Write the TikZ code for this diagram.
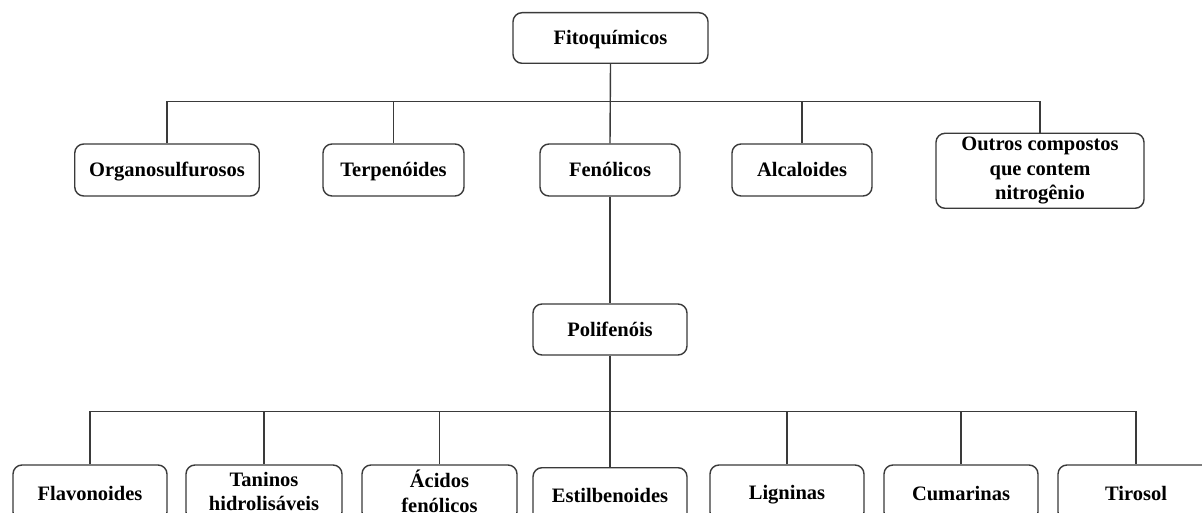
\documentclass[tikz,border=0pt]{standalone}
\usepackage{fontspec}
\setmainfont{Liberation Serif}
\definecolor{linec}{HTML}{3A3A3A}
\newcommand{\mystrut}{\rule[-3.5pt]{0pt}{21pt}}
\begin{document}
\begin{tikzpicture}[x=1pt,y=-1pt,
  box/.style={draw=linec,line width=1.4pt,rounded corners=9pt,inner sep=0pt,
    align=center,font=\fontsize{20.5}{24.5}\selectfont\bfseries,text=black,
    execute at begin node=\mystrut,execute at end node=\mystrut},
  conn/.style={draw=linec,line width=1.4pt}]
\useasboundingbox (0,0) rectangle (1202,513);
\clip (0,0) rectangle (1202,513);
\fill[white] (0,0) rectangle (1202,513);
% top level
\node[box,minimum width=195pt,minimum height=50.6pt] (fito) at (610.5,38) {Fitoquímicos};
% second row
\node[box,minimum width=184.5pt,minimum height=52pt] (org) at (167,170) {Organosulfurosos};
\node[box,minimum width=141pt,minimum height=52pt] (ter) at (393.5,170) {Terpenóides};
\node[box,minimum width=140pt,minimum height=52pt] (fen) at (610,170) {Fenólicos};
\node[box,minimum width=140pt,minimum height=52pt] (alc) at (802,170) {Alcaloides};
\node[box,minimum width=208pt,minimum height=75pt] (out) at (1040,170.8) {Outros compostos\\que contem\\nitrogênio};
% polifenois
\node[box,minimum width=154pt,minimum height=51pt] (pol) at (610,329.5) {Polifenóis};
% bottom row
\node[box,minimum width=154pt,minimum height=56pt] (fla) at (90,493) {Flavonoides};
\node[box,minimum width=156pt,minimum height=56pt] (tan) at (264,493) {Taninos\\hidrolisáveis};
\node[box,minimum width=155pt,minimum height=56pt] (aci) at (439.5,493) {Ácidos\\fenólicos};
\node[box,minimum width=154pt,minimum height=56pt] (est) at (610,495.7) {Estilbenoides};
\node[box,minimum width=154pt,minimum height=56pt] (lig) at (787,493) {Ligninas};
\node[box,minimum width=154pt,minimum height=56pt] (cum) at (961,493) {Cumarinas};
\node[box,minimum width=156pt,minimum height=56pt] (tir) at (1136,493) {Tirosol};
% bar coordinates
\coordinate (bar1) at (610,101.7);
\coordinate (bar2) at (610,411.7);
% connectors top level
\draw[conn] (fito.south) -- (fen.north);
\draw[conn] (org.north) -- (org.north |- bar1) -- (out.north |- bar1) -- (out.north);
\draw[conn] (ter.north) -- (ter.north |- bar1);
\draw[conn] (alc.north) -- (alc.north |- bar1);
% fenolicos to polifenois
\draw[conn] (fen.south) -- (pol.north);
% bottom connectors
\draw[conn] (pol.south) -- (est.north);
\draw[conn] (fla.north) -- (fla.north |- bar2) -- (tir.north |- bar2) -- (tir.north);
\draw[conn] (tan.north) -- (tan.north |- bar2);
\draw[conn] (aci.north) -- (aci.north |- bar2);
\draw[conn] (lig.north) -- (lig.north |- bar2);
\draw[conn] (cum.north) -- (cum.north |- bar2);
\end{tikzpicture}
\end{document}
